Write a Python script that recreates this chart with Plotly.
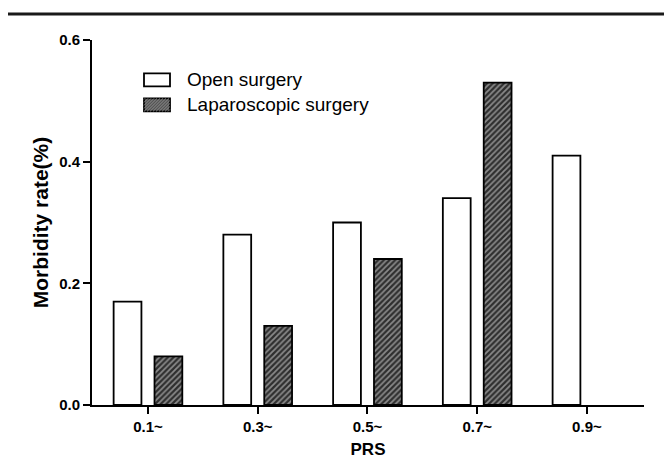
import plotly.graph_objects as go

# ---- data ----
categories = ["0.1~", "0.3~", "0.5~", "0.7~", "0.9~"]
open_surgery = [0.17, 0.28, 0.30, 0.34, 0.41]
laparoscopic_surgery = [0.08, 0.13, 0.24, 0.53, None]
series_names = ["Open surgery", "Laparoscopic surgery"]
y_ticks = [0.0, 0.2, 0.4, 0.6]

W, H = 664, 459
ML, MR, MT, MB = 92, 20, 39.5, 54
PW, PH = W - ML - MR, H - MT - MB

def px_x(px):
    return (px - ML) / PW

def px_y(py):
    return (H - MB - py) / PH

FONT = "Liberation Sans, Arial, sans-serif"
HATCH = dict(shape="/", fillmode="replace", bgcolor="#2e2e2e", fgcolor="#8a8a8a",
             size=4, solidity=0.45)

fig = go.Figure()
fig.add_trace(go.Bar(
    x=categories, y=open_surgery, name=series_names[0],
    marker=dict(color="white", line=dict(color="black", width=1.8)),
    showlegend=False,
))
fig.add_trace(go.Bar(
    x=categories, y=laparoscopic_surgery, name=series_names[1],
    marker=dict(color="#3a3a3a", line=dict(color="black", width=1.8), pattern=HATCH),
    showlegend=False,
))

# legend drawn by hand to match the wide swatches of the original
SW_X0, SW_X1 = 144, 170
shapes = [
    dict(type="line", xref="paper", yref="paper",
         x0=px_x(8), x1=px_x(664), y0=px_y(13.5), y1=px_y(13.5),
         line=dict(color="#1a1a1a", width=3)),
    dict(type="rect", xref="paper", yref="paper",
         x0=px_x(SW_X0), x1=px_x(SW_X1), y0=px_y(86), y1=px_y(73),
         fillcolor="white", line=dict(color="black", width=1.8)),
    dict(type="rect", xref="paper", yref="paper",
         x0=px_x(SW_X0), x1=px_x(SW_X1), y0=px_y(111), y1=px_y(98),
         fillcolor="#555555", line=dict(color="black", width=1.8)),
]
for i in range(-12, 28, 3):
    xa, xb = SW_X0 + i, SW_X0 + i + 13
    ya, yb = 111, 98
    if xa < SW_X0:
        ya = ya - (SW_X0 - xa)
        xa = SW_X0
    if xb > SW_X1:
        yb = yb + (xb - SW_X1)
        xb = SW_X1
    if xb <= xa:
        continue
    shapes.append(dict(type="line", xref="paper", yref="paper",
                       x0=px_x(xa), x1=px_x(xb), y0=px_y(ya), y1=px_y(yb),
                       line=dict(color="#9a9a9a", width=0.8)))

annotations = [
    dict(text=series_names[0], xref="paper", yref="paper", x=px_x(185), y=px_y(79.5),
         xanchor="left", yanchor="middle", showarrow=False,
         font=dict(family=FONT, size=19, color="black")),
    dict(text=series_names[1], xref="paper", yref="paper", x=px_x(185), y=px_y(104.5),
         xanchor="left", yanchor="middle", showarrow=False,
         font=dict(family=FONT, size=19, color="black")),
]

fig.update_layout(
    width=W, height=H,
    margin=dict(l=ML, r=MR, t=MT, b=MB, pad=0),
    paper_bgcolor="white", plot_bgcolor="white",
    barmode="group", bargap=0.255, bargroupgap=0.32,
    font=dict(family=FONT, color="black"),
    shapes=shapes, annotations=annotations,
    showlegend=False,
)
fig.update_xaxes(
    type="category", range=[-0.51, 4.52], automargin=False,
    showline=True, linecolor="black", linewidth=2,
    ticks="outside", ticklen=7, tickwidth=2, tickcolor="black",
    tickfont=dict(family=FONT, size=15, color="black", weight="bold"),
    title=dict(text="<b>PRS</b>", font=dict(family=FONT, size=17, color="black"), standoff=9),
    showgrid=False, zeroline=False,
)
fig.update_yaxes(
    range=[0, 0.6], tickvals=y_ticks, tickformat=".1f", automargin=False,
    showline=True, linecolor="black", linewidth=2,
    ticks="outside", ticklen=7, tickwidth=2, tickcolor="black",
    tickfont=dict(family=FONT, size=15, color="black", weight="bold"),
    title=dict(text="<b>Morbidity rate(%)</b>", font=dict(family=FONT, size=21, color="black"), standoff=5),
    showgrid=False, zeroline=False,
)

fig.write_html("out.html", config={"displayModeBar": False},
               post_script="document.body.style.margin='0';document.body.style.padding='0';")
